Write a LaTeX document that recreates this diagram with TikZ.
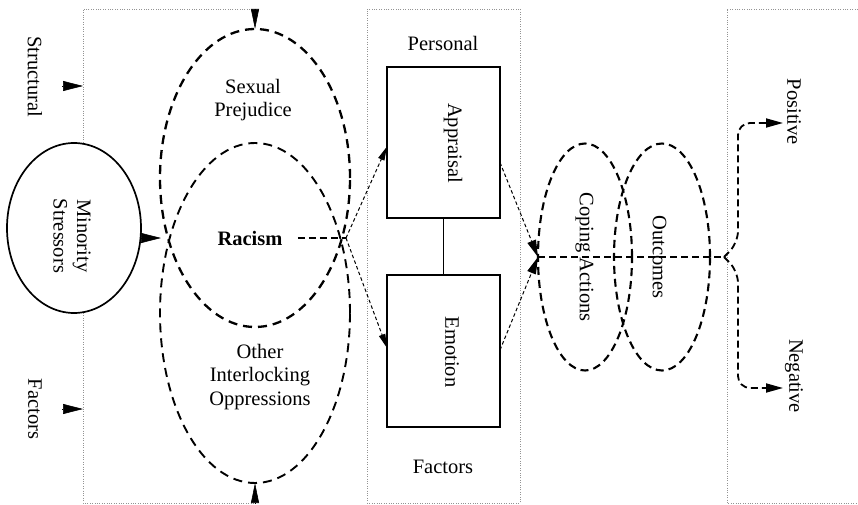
\documentclass[tikz,border=0pt]{standalone}
\usepackage{fontspec}
\setmainfont{Liberation Serif}
\usetikzlibrary{shapes.geometric,arrows.meta,calc}
\begin{document}
\begin{tikzpicture}[x=1pt,y=-1pt,
  font=\fontsize{20.5}{23.5}\selectfont,
  frame/.style={draw=gray!85, line width=0.8pt, dash pattern=on 1pt off 1.4pt},
  bigell/.style={draw, ellipse, inner sep=0pt, outer sep=0pt, line width=2.3pt, dash pattern=on 9pt off 6pt},
  bigellb/.style={draw, ellipse, inner sep=0pt, outer sep=0pt, line width=1.9pt, dash pattern=on 9pt off 6pt},
  cell/.style={draw, ellipse, inner sep=0pt, outer sep=0pt, line width=2.1pt, dash pattern=on 8pt off 5pt},
  solidbox/.style={draw, line width=1.8pt, inner sep=0pt, outer sep=0pt},
  rot/.style={rotate=-90, align=center},
  thindash/.style={line width=1pt, dash pattern=on 3.5pt off 2.5pt},
  medash/.style={line width=1.8pt, dash pattern=on 7pt off 4pt},
  bigtip/.style={-{Triangle[length=20pt,width=10pt]}},
  vtip/.style={-{Triangle[length=20pt,width=8pt]}},
  smalltip/.style={-{Triangle[length=14pt,width=6.5pt]}},
  medtip/.style={-{Triangle[length=17pt,width=9pt]}}
]
\useasboundingbox (0,0) rectangle (858,505);

% ---- nodes ----
\node[draw, ellipse, line width=1.7pt, inner sep=0pt, outer sep=0pt, minimum width=134pt, minimum height=170pt] (ms) at (74,228) {};
\node[rot] (mst) at (72,236) {Minority\\Stressors};

\node[bigell, minimum width=190pt, minimum height=298pt] (sp) at (255,178) {};
\node[bigellb, minimum width=190pt, minimum height=340pt] (oio) at (255,313) {};
\node[align=center] (spt) at (253,100) {Sexual\\Prejudice};
\node[align=center] (oiot) at (260,377) {Other\\Interlocking\\Oppressions};
\node[font=\fontsize{20.5}{23.5}\selectfont\bfseries] (rac) at (250,238) {Racism};

\node[rot] (strt) at (35,77) {Structural};
\node[rot] (fact1) at (35,409) {Factors};

\node[frame, minimum width=153pt, minimum height=494pt, inner sep=0pt] (pf) at (443.5,256) {};
\node (pers) at (443,43) {Personal};
\node (fact2) at (443,467) {Factors};

\node[solidbox, minimum width=113pt, minimum height=151pt] (appr) at (443.5,142.5) {};
\node[solidbox, minimum width=113pt, minimum height=152pt] (emo) at (443.5,351) {};
\node[rot] (apprt) at (453,143) {Appraisal};
\node[rot] (emot) at (452,352) {Emotion};

\node[cell, minimum width=94pt, minimum height=227pt] (cop) at (585,257) {};
\node[cell, minimum width=96pt, minimum height=227pt] (outc) at (662,257) {};
\node[rot] (copt) at (584.5,257) {Coping Actions};
\node[rot] (outct) at (659.5,257) {Outcomes};

\node[rot] (post) at (794,112) {Positive};
\node[rot] (negt) at (794,376) {Negative};

% ---- coordinates ----
\coordinate (tl) at (255,9);
\coordinate (bl) at (255,503);
\coordinate (sa) at (62,86);
\coordinate (sae) at (83,86);
\coordinate (fa) at (62,409);
\coordinate (fae) at (83,409);
\coordinate (jl) at (168,238);
\coordinate (jm) at (346,238);
\coordinate (jc) at (538,257);
\coordinate (jr) at (724,257);
\coordinate (pe) at (783,123);
\coordinate (ne) at (783,388);

% ---- frames ----
\draw[frame] (tl) -- (83,9) -- (83,143);
\draw[frame] (83,313) -- (83,503) -- (bl);
\draw[frame] (858,9) -- (727,9) -- (727,503) -- (858,503);

% ---- arrows ----
\draw[vtip, line width=0.6pt] (tl) -- (sp.north);
\draw[vtip, line width=0.6pt] (bl) -- (oio.south);
\draw[bigtip, line width=0.6pt] (sa) -- (sae);
\draw[bigtip, line width=0.6pt] (fa) -- (fae);
\draw[bigtip, line width=0.6pt, shorten >=7pt] (ms.east |- jl) -- (jl);

\draw[medash, shorten <=12pt] (rac.east) -- (jm);
\draw[thindash, smalltip] (jm) -- ($(appr.west)+(0,4)$);
\draw[thindash, smalltip] (jm) -- ($(emo.west)+(0,-3)$);

\draw[line width=1.6pt] (appr.south) -- (emo.north);

\draw[thindash, medtip] ($(appr.east)+(0,20)$) -- (jc);
\draw[thindash, medtip] ($(emo.east)+(0,-1)$) -- (jc);

\draw[medash] (jc) -- (jr);
\draw[medash, medtip, rounded corners=12pt] (jr) -- (738,243) -- (738,123) -- (pe);
\draw[medash, medtip, rounded corners=12pt] (jr) -- (738,271) -- (738,388) -- (ne);
\end{tikzpicture}
\end{document}
